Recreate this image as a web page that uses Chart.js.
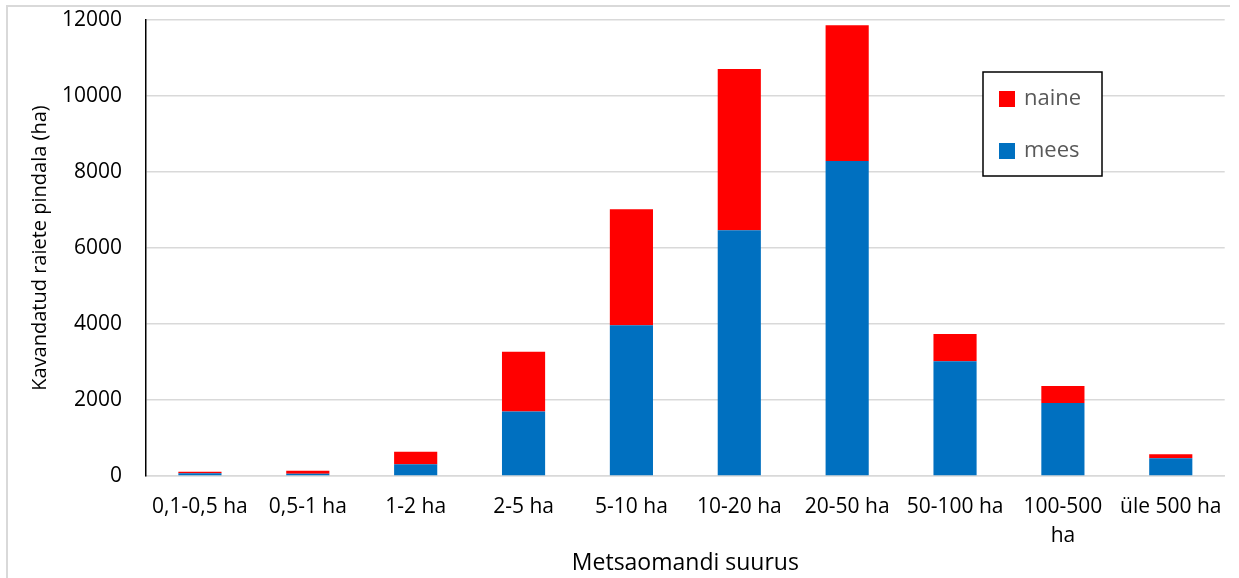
<!DOCTYPE html>
<html>
<head>
<meta charset="utf-8">
<script src="https://cdn.jsdelivr.net/npm/chart.js@4"></script>
<style>
  html, body { margin: 0; padding: 0; background: #fff; }
  #wrap { position: relative; width: 1239px; height: 578px; }
  #frame { position: absolute; left: 6px; top: 5px; right: 9px; bottom: -5px; border-top: 2px solid #d9d9d9; border-left: 2px solid #d9d9d9; }
  canvas { position: absolute; left: 0; top: 0; }
</style>
</head>
<body>
<div id="wrap">
  <div id="frame"></div>
  <canvas id="raieChart" width="1239" height="578"></canvas>
</div>
<script>
// Metsaomandi suurus vs kavandatud raiete pindala
var categories = ['0,1-0,5 ha', '0,5-1 ha', '1-2 ha', '2-5 ha', '5-10 ha', '10-20 ha', '20-50 ha', '50-100 ha', ['100-500', 'ha'], 'üle 500 ha'];
var meesValues = [70, 60, 310, 1700, 3970, 6470, 8290, 3020, 1920, 465];
var naineValues = [40, 80, 330, 1570, 3050, 4240, 3570, 720, 450, 105];
var yTicks = [0, 2000, 4000, 6000, 8000, 10000, 12000];

var FONT = '"Open Sans", "Noto Sans", sans-serif';

// legend box inside the plot, naine on top
var boxLegend = {
    id: 'boxLegend',
    afterDraw: function (chart) {
        var ctx = chart.ctx;
        var items = chart.data.datasets.slice().reverse();
        ctx.save();
        ctx.strokeStyle = '#000';
        ctx.lineWidth = 1.5;
        ctx.fillStyle = '#fff';
        ctx.fillRect(983, 72, 119, 104);
        ctx.strokeRect(983, 72, 119, 104);
        ctx.font = '22px ' + FONT;
        ctx.textBaseline = 'middle';
        items.forEach(function (ds, i) {
            var cy = 99 + i * 52;
            ctx.fillStyle = ds.backgroundColor;
            ctx.fillRect(999, cy - 8, 16, 16);
            ctx.fillStyle = '#595959';
            ctx.fillText(ds.label, 1024, cy);
        });
        ctx.restore();
    }
};

var ctx = document.getElementById('raieChart').getContext('2d');
var chart = new Chart(ctx, {
    type: 'bar',
    data: {
        labels: categories,
        datasets: [{
            label: 'mees',
            data: meesValues,
            backgroundColor: '#0070C0',
            categoryPercentage: 1,
            barPercentage: 0.4
        }, {
            label: 'naine',
            data: naineValues,
            backgroundColor: '#FF0000',
            categoryPercentage: 1,
            barPercentage: 0.4
        }]
    },
    options: {
        responsive: false,
        animation: false,
        layout: { padding: { top: 20, right: 10, left: 0, bottom: 0 } },
        plugins: {
            legend: { display: false },
            tooltip: { enabled: false }
        },
        scales: {
            x: {
                stacked: true,
                grid: { display: false, drawTicks: false },
                border: { display: true, color: '#d9d9d9', width: 1.5 },
                ticks: {
                    font: { family: FONT, size: 21, lineHeight: 1.38 },
                    color: '#000',
                    padding: 17,
                    maxRotation: 0,
                    autoSkip: false
                },
                title: {
                    display: true,
                    text: 'Metsaomandi suurus',
                    font: { family: FONT, size: 23, lineHeight: 1.2 },
                    color: '#000',
                    padding: { top: 0, bottom: 1 }
                },
                afterFit: function (scale) {
                    scale.height = 102;
                    scale.paddingTop = 0;
                    scale.paddingBottom = 0;
                }
            },
            y: {
                stacked: true,
                min: 0,
                max: 12000,
                afterBuildTicks: function (scale) {
                    scale.ticks = yTicks.map(function (v) { return { value: v }; });
                },
                grid: { color: '#d9d9d9', lineWidth: 1.5, drawTicks: false },
                border: { display: true, color: '#000', width: 1.5 },
                ticks: {
                    font: { family: FONT, size: 21 },
                    color: '#000',
                    padding: 24,
                    callback: function (v) { return String(v); }
                },
                title: {
                    display: true,
                    text: 'Kavandatud raiete pindala (ha)',
                    font: { family: FONT, size: 20, lineHeight: 1.2 },
                    color: '#000',
                    padding: { top: 28, bottom: 0 }
                },
                afterFit: function (scale) {
                    scale.width = 146;
                    scale.paddingTop = 0;
                    scale.paddingBottom = 0;
                }
            }
        }
    },
    plugins: [boxLegend]
});
</script>
</body>
</html>
